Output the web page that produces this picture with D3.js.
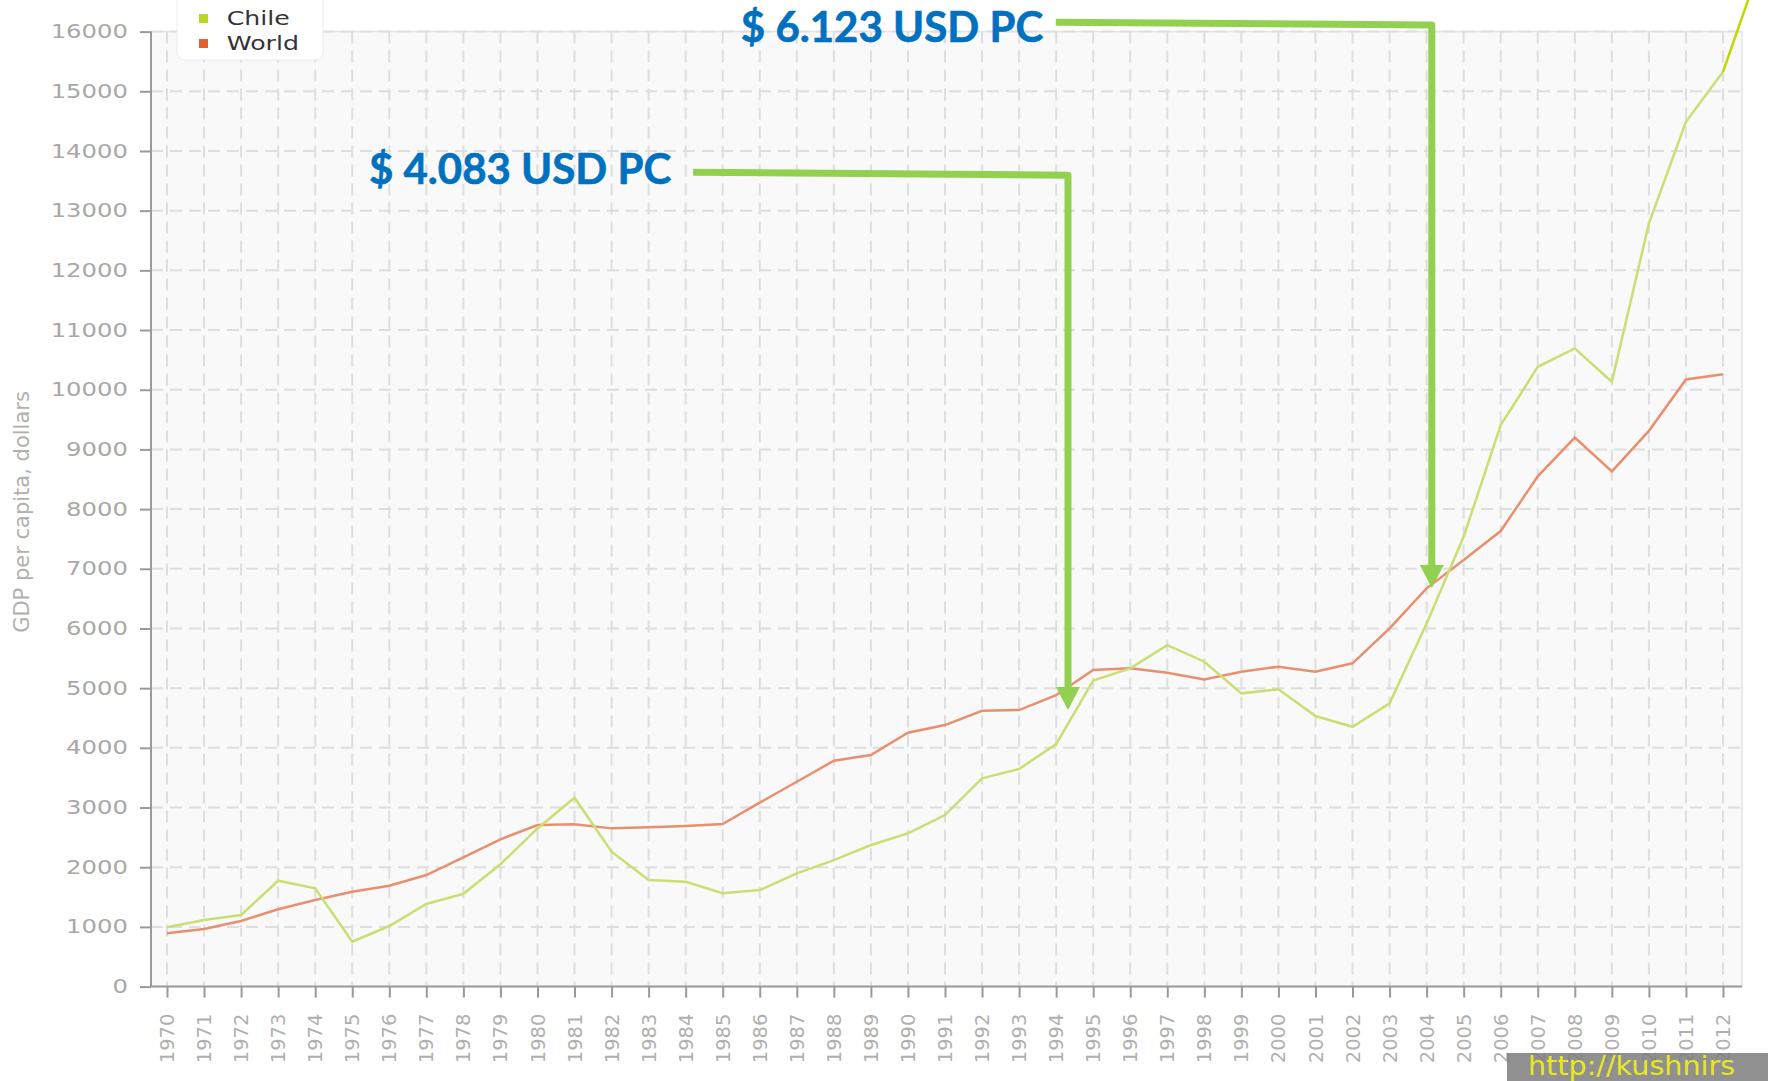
<!DOCTYPE html>
<html>
<head>
<meta charset="utf-8">
<script src="https://cdn.jsdelivr.net/npm/d3@7"></script>
<style>
  body { margin: 0; background: #fff; }
  svg { display: block; }
</style>
</head>
<body>
<div id="chart"></div>
<script>
// data
var years = d3.range(1970, 2013);
var chile = [993, 1115, 1199, 1774, 1646, 752, 1015, 1384, 1555, 2050,
             2650, 3165, 2260, 1785, 1757, 1563, 1618, 1898, 2120, 2372,
             2568, 2874, 3489, 3645, 4064, 5128, 5332, 5722, 5443, 4913,
             4980, 4533, 4353, 4745, 6085, 7536, 9407, 10384, 10692, 10133,
             12786, 14488, 15326];
var world = [893, 965, 1099, 1295, 1451, 1590, 1690, 1869, 2166, 2467,
             2707, 2718, 2651, 2668, 2690, 2723, 3081, 3432, 3784, 3879,
             4253, 4382, 4622, 4633, 4884, 5303, 5332, 5258, 5147, 5275,
             5359, 5275, 5416, 6002, 6672, 7146, 7632, 8550, 9198, 8631,
             9311, 10172, 10261];
// the hand drawn line leaving the chart after 2012
var chileExtYears = [2012, 2013];
var chileExt = [15326, 17100];
var yTicks = d3.range(0, 16001, 1000);
var seriesNames = ["Chile", "World"];

// annotations (in data units)
var annoLabels = ["$ 4.083 USD PC", "$ 6.123 USD PC"];
var annoTextYear = [1975.45, 1985.49];
var annoTextValue = [13444, 15827];
var annoStartYear = [1984.2, 1993.99];
var annoStartValue = [13645, 16157];
var annoCornerYear = [1994.32, 2004.14];
var annoCornerValue = [13595, 16110];
var annoTipValue = [4633, 6677];

var W = 1768, H = 1081;
var plotLeft = 151, plotRight = 1742, plotTop = 31.6, plotBottom = 986.6;

var svg = d3.select("#chart").append("svg")
    .attr("width", W)
    .attr("height", H);

var x = d3.scaleLinear().domain([1970, 2012]).range([167, 1723]);
var y = d3.scaleLinear().domain([0, 16000]).range([plotBottom, plotTop]);

var color = d3.scaleOrdinal().domain(seriesNames).range(["#c8df72", "#e8906e"]);
var legendColor = d3.scaleOrdinal().domain(seriesNames).range(["#b7d62a", "#e2622f"]);

// plot background
svg.append("rect")
    .attr("x", plotLeft)
    .attr("y", plotTop)
    .attr("width", plotRight - plotLeft)
    .attr("height", plotBottom - plotTop)
    .attr("fill", "#f9f9f9")
    .attr("stroke", "#e4e4e4")
    .attr("stroke-width", 1.5);

// grid
var grid = svg.append("g").attr("stroke", "#dedede").attr("stroke-width", 2)
    .attr("stroke-dasharray", "12,7");
grid.selectAll(".vg").data(years).enter().append("line")
    .attr("x1", function (d) { return x(d); })
    .attr("x2", function (d) { return x(d); })
    .attr("y1", plotTop)
    .attr("y2", plotBottom);
grid.selectAll(".hg").data(yTicks.slice(1)).enter().append("line")
    .attr("x1", plotLeft)
    .attr("x2", plotRight)
    .attr("y1", function (d) { return y(d); })
    .attr("y2", function (d) { return y(d); });

// y axis
var yAxis = svg.append("g")
    .attr("transform", "translate(" + plotLeft + ",0)")
    .call(d3.axisLeft(y).tickValues(yTicks).tickFormat(d3.format("d")).tickSize(11).tickSizeOuter(0));
yAxis.select(".domain").attr("stroke", "#9a9a9a").attr("stroke-width", 2)
    .attr("d", "M0," + plotTop + "V" + plotBottom);
yAxis.selectAll(".tick line").attr("stroke", "#9a9a9a").attr("stroke-width", 2);
yAxis.selectAll(".tick text")
    .attr("x", -18)
    .attr("transform", "scale(1.28,1)")
    .attr("fill", "#a8a8a8")
    .style("font-family", "DejaVu Sans")
    .style("font-size", "19px");

// x axis
var xAxis = svg.append("g")
    .attr("transform", "translate(0," + plotBottom + ")")
    .call(d3.axisBottom(x).tickValues(years).tickFormat(d3.format("d")).tickSize(11).tickSizeOuter(0));
xAxis.select(".domain").attr("stroke", "#9a9a9a").attr("stroke-width", 2)
    .attr("d", "M" + plotLeft + ",0H" + plotRight);
xAxis.selectAll(".tick line").attr("stroke", "#9a9a9a").attr("stroke-width", 2);
xAxis.selectAll(".tick text")
    .attr("x", 0)
    .attr("y", 0)
    .attr("dy", "0.35em")
    .attr("text-anchor", "end")
    .attr("transform", "translate(0,27) rotate(-90) scale(1.3,1.25)")
    .attr("fill", "#b0b0b0")
    .style("font-family", "DejaVu Sans")
    .style("font-size", "15px");

// y axis title
svg.append("text")
    .attr("transform", "translate(29,512) rotate(-90)")
    .attr("text-anchor", "middle")
    .attr("fill", "#b0b0b0")
    .style("font-family", "DejaVu Sans")
    .style("font-size", "21px")
    .text("GDP per capita, dollars");

// lines
var line = d3.line()
    .x(function (d) { return x(d[0]); })
    .y(function (d) { return y(d[1]); });

svg.append("path")
    .datum(years.map(function (yr, i) { return [yr, world[i]]; }))
    .attr("d", line)
    .attr("fill", "none")
    .attr("stroke", color("World"))
    .attr("stroke-width", 2.5);

svg.append("path")
    .datum(years.map(function (yr, i) { return [yr, chile[i]]; }))
    .attr("d", line)
    .attr("fill", "none")
    .attr("stroke", color("Chile"))
    .attr("stroke-width", 2.5);

svg.append("path")
    .datum(chileExtYears.map(function (yr, i) { return [yr, chileExt[i]]; }))
    .attr("d", line)
    .attr("fill", "none")
    .attr("stroke", "#c2d600")
    .attr("stroke-width", 2.5);

// legend
var legend = svg.append("g");
legend.append("rect")
    .attr("x", 177)
    .attr("y", -10)
    .attr("width", 146)
    .attr("height", 70)
    .attr("rx", 8)
    .attr("fill", "#fff")
    .attr("stroke", "#ececec");
var item = legend.selectAll(".item").data(seriesNames).enter().append("g")
    .attr("transform", function (d, i) { return "translate(199," + (14 + i * 25) + ")"; });
item.append("rect")
    .attr("width", 9)
    .attr("height", 9)
    .attr("fill", function (d) { return legendColor(d); });
item.append("text")
    .attr("x", 22)
    .attr("y", 11)
    .attr("transform", "scale(1.26,1)")
    .attr("fill", "#333")
    .style("font-family", "DejaVu Sans")
    .style("font-size", "20px")
    .text(function (d) { return d; });

// annotations
var green = "#92d050";
annoLabels.forEach(function (label, i) {
    var cx = x(annoCornerYear[i]);
    var tipY = y(annoTipValue[i]);
    svg.append("path")
        .attr("d", "M" + x(annoStartYear[i]) + "," + y(annoStartValue[i]) +
            "L" + cx + "," + y(annoCornerValue[i]) +
            "L" + cx + "," + (tipY - 20))
        .attr("fill", "none")
        .attr("stroke", green)
        .attr("stroke-width", 7)
        .attr("stroke-linejoin", "round");
    svg.append("path")
        .attr("d", "M" + (cx - 12) + "," + (tipY - 23) + "L" + (cx + 12) + "," + (tipY - 23) +
            "L" + cx + "," + tipY + "Z")
        .attr("fill", green);
    svg.append("text")
        .attr("x", x(annoTextYear[i]))
        .attr("y", y(annoTextValue[i]))
        .attr("fill", "#0070c0")
        .style("font-family", "Lato")
        .style("font-weight", "bold")
        .style("font-size", "42px")
        .style("stroke", "#0070c0")
        .style("stroke-width", 0.6)
        .text(label);
});

// watermark
svg.append("rect")
    .attr("x", 1507)
    .attr("y", 1053)
    .attr("width", W - 1507)
    .attr("height", H - 1053)
    .attr("fill", "#7c7c7c")
    .attr("opacity", 0.85);
svg.append("text")
    .attr("transform", "translate(1528,1075) scale(1.1,1)")
    .attr("fill", "#e8e820")
    .style("font-family", "DejaVu Sans")
    .style("font-size", "26px")
    .text("http://kushnirs");
</script>
</body>
</html>
